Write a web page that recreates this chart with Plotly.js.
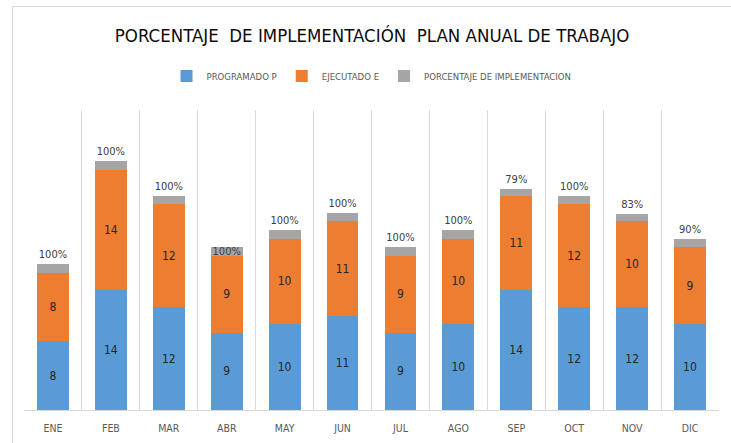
<!DOCTYPE html>
<html>
<head>
<meta charset="utf-8">
<script src="https://cdn.plot.ly/plotly-3.0.1.min.js"></script>
<style>html,body{margin:0;padding:0;background:#fff;}</style>
</head>
<body>
<div id="chart" style="width:731px;height:443px;"></div>
<script>
const months = ["ENE","FEB","MAR","ABR","MAY","JUN","JUL","AGO","SEP","OCT","NOV","DIC"];
const programado = [8,14,12,9,10,11,9,10,14,12,12,10];
const ejecutado = [8,14,12,9,10,11,9,10,11,12,10,9];
const porcentaje = [1,1,1,1,1,1,1,1,0.79,1,0.83,0.90];
const pctPositions = ["outside","outside","outside","inside","outside","outside","outside","outside","outside","outside","outside","outside"];

const FONT = "'DejaVu Sans Condensed','Liberation Sans Narrow',sans-serif";

const traces = [
  {type:"bar", name:"PROGRAMADO P", x:months, y:programado,
   marker:{color:"#5B9BD5"}, text:programado.map(String), textposition:"inside",
   insidetextanchor:"middle", textfont:{family:FONT,size:12,color:"#262626"}, constraintext:"none", hoverinfo:"y"},
  {type:"bar", name:"EJECUTADO E", x:months, y:ejecutado,
   marker:{color:"#ED7D31"}, text:ejecutado.map(String), textposition:"inside",
   insidetextanchor:"middle", textfont:{family:FONT,size:12,color:"#262626"}, constraintext:"none", hoverinfo:"y"},
  {type:"bar", name:"PORCENTAJE DE IMPLEMENTACION", x:months, y:porcentaje,
   marker:{color:"#A5A5A5"}, text:porcentaje.map(v=>Math.round(v*100)+"%"), textposition:pctPositions,
   insidetextanchor:"middle", textfont:{family:FONT,size:11,color:"#404040"}, constraintext:"none", cliponaxis:false, hoverinfo:"y"}
];

const layout = {
  width:731, height:443,
  margin:{l:24, r:12, t:110, b:33, pad:0},
  paper_bgcolor:"#fff", plot_bgcolor:"#fff",
  barmode:"stack", bargap:0.45,
  showlegend:true,
  title:{text:"PORCENTAJE  DE IMPLEMENTACIÓN  PLAN ANUAL DE TRABAJO",
    font:{family:FONT, size:18.5, color:"#0d0d0d", weight:"normal"},
    x:0.509, xanchor:"center", y:1-36/443, yanchor:"middle"},
  legend:{orientation:"h", x:0.5, xanchor:"center", y:(410-76)/300, yanchor:"middle",
    font:{family:FONT, size:9.5, color:"#595959"}, itemwidth:30, traceorder:"normal", bgcolor:"rgba(0,0,0,0)"},
  xaxis:{type:"category", tickson:"boundaries", showgrid:true, gridcolor:"#d9d9d9", gridwidth:1,
    ticks:"", showline:true, linecolor:"#d9d9d9", linewidth:1, ticklabelstandoff:8,
    tickfont:{family:FONT, size:10.5, color:"#595959"}, fixedrange:true},
  yaxis:{range:[0,35], showgrid:false, zeroline:false, showticklabels:false, ticks:"", showline:false, fixedrange:true},
  shapes:[{type:"rect", xref:"paper", yref:"paper", x0:(12.5-24)/695, x1:2, y0:-1, y1:(410-6.5)/300,
    line:{color:"#d9d9d9", width:1}, fillcolor:"rgba(0,0,0,0)", layer:"below"}]
};

Plotly.newPlot("chart", traces, layout, {displayModeBar:false, staticPlot:true});
</script>
</body>
</html>
